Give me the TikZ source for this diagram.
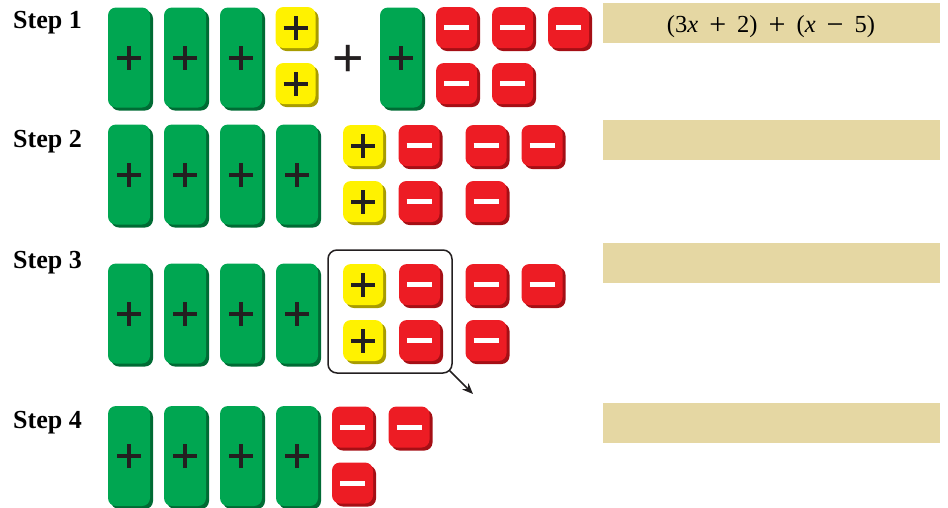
\documentclass[tikz,border=0pt]{standalone}
\usepackage{fontspec}
\setmainfont{Liberation Serif}
\newfontfamily\opsans{Liberation Sans}
\usetikzlibrary{arrows.meta}
\definecolor{tgreen}{HTML}{00A651}
\definecolor{tgreenD}{HTML}{006B34}
\definecolor{tyellow}{HTML}{FFF200}
\definecolor{tyellowD}{HTML}{A89C00}
\definecolor{tred}{HTML}{ED1C24}
\definecolor{tredD}{HTML}{A50F15}
\definecolor{tan}{HTML}{E5D7A3}
\definecolor{signc}{HTML}{231F20}
\newcommand{\bigop}[1]{\hspace{.45em}\raisebox{-2.6pt}{\fontsize{30}{30}\selectfont #1}\hspace{.45em}}
\tikzset{
 tile/.style={rectangle, rounded corners=8pt, inner sep=0pt, outer sep=0pt, draw=none},
 shadowed/.style={preaction={fill=#1, transform canvas={shift={(3pt,-3pt)}}}},
 plussign/.style={path picture={\draw[line width=4pt, signc]
   ([xshift=-12pt]path picture bounding box.center) -- ([xshift=12pt]path picture bounding box.center)
   ([yshift=-12pt]path picture bounding box.center) -- ([yshift=12pt]path picture bounding box.center);}},
 minussign/.style={path picture={\draw[line width=5pt, white]
   ([xshift=-12.5pt]path picture bounding box.center) -- ([xshift=12.5pt]path picture bounding box.center);}},
 gtile/.style={tile, minimum width=42pt, minimum height=100pt, fill=tgreen, shadowed=tgreenD, plussign},
 ytile/.style={tile, minimum width=40pt, minimum height=41pt, fill=tyellow, shadowed=tyellowD, plussign},
 rtile/.style={tile, minimum width=41pt, minimum height=41pt, fill=tred, shadowed=tredD, minussign},
 steplabel/.style={anchor=base west, inner sep=0pt, font=\bfseries\fontsize{26}{26}\selectfont},
 tanbar/.style={rectangle, fill=tan, inner sep=0pt, minimum width=337pt, minimum height=40pt},
}
\begin{document}
\begin{tikzpicture}[x=1pt,y=-1pt]
\useasboundingbox (0,0) rectangle (948,507);
% step labels
\node[steplabel] (s1) at (13,28) {Step 1};
\node[steplabel] (s2) at (13,147) {Step 2};
\node[steplabel] (s3) at (13,268) {Step 3};
\node[steplabel] (s4) at (13,428) {Step 4};
% tan bars
\node[tanbar] (b1) at (771.5,23) {};
\node[tanbar] (b2) at (771.5,140) {};
\node[tanbar] (b3) at (771.5,263) {};
\node[tanbar] (b4) at (771.5,423) {};
\node[anchor=base, inner sep=0pt, font=\fontsize{24.5}{24.5}\selectfont] (expr) at (771,32)
 {(3\textit{x}\bigop{+}2)\bigop{+}(\textit{x}\bigop{−}5)};
% step 1
\node[gtile] (g11) at (129,57.5) {};
\node[gtile] (g12) at (185,57.5) {};
\node[gtile] (g13) at (241,57.5) {};
\node[ytile] (y11) at (295.5,27.5) {};
\node[ytile] (y12) at (295.5,83.5) {};
\node[inner sep=0pt, font=\opsans\fontsize{54}{54}\selectfont, text=signc] (op) at (348,61) {+};
\node[gtile] (g14) at (401,57.5) {};
\node[rtile] (r11) at (456.5,27.5) {};
\node[rtile] (r12) at (512.5,27.5) {};
\node[rtile] (r13) at (568.5,27.5) {};
\node[rtile] (r14) at (456.5,83.5) {};
\node[rtile] (r15) at (512.5,83.5) {};
% step 2
\node[gtile] (g21) at (129,174.5) {};
\node[gtile] (g22) at (185,174.5) {};
\node[gtile] (g23) at (241,174.5) {};
\node[gtile] (g24) at (297,174.5) {};
\node[ytile] (y21) at (363,145.5) {};
\node[ytile] (y22) at (363,201.5) {};
\node[rtile] (r21) at (419,145.5) {};
\node[rtile] (r22) at (486,145.5) {};
\node[rtile] (r23) at (542,145.5) {};
\node[rtile] (r24) at (419,201.5) {};
\node[rtile] (r25) at (486,201.5) {};
% step 3
\node[gtile] (g31) at (129,313.5) {};
\node[gtile] (g32) at (185,313.5) {};
\node[gtile] (g33) at (241,313.5) {};
\node[gtile] (g34) at (297,313.5) {};
\node[ytile] (y31) at (363,284.5) {};
\node[ytile] (y32) at (363,340.5) {};
\node[rtile] (r31) at (419.5,284.5) {};
\node[rtile] (r32) at (486,284.5) {};
\node[rtile] (r33) at (542,284.5) {};
\node[rtile] (r34) at (419.5,340.5) {};
\node[rtile] (r35) at (486,340.5) {};
\node[draw=signc, line width=1.5pt, rounded corners=9pt, inner sep=0pt,
      minimum width=124pt, minimum height=123pt] (box) at (390,311.5) {};
\coordinate (arrowend) at (473,394);
\draw[signc, line width=1.5pt, -{Stealth[length=11pt,width=9pt]}]
  ([shift={(-3pt,3pt)}]box.south east) -- (arrowend);
% step 4
\node[gtile] (g41) at (129,456) {};
\node[gtile] (g42) at (185,456) {};
\node[gtile] (g43) at (241,456) {};
\node[gtile] (g44) at (297,456) {};
\node[rtile] (r41) at (352.5,427) {};
\node[rtile] (r42) at (409,427) {};
\node[rtile] (r43) at (352.5,483) {};
\end{tikzpicture}
\end{document}
